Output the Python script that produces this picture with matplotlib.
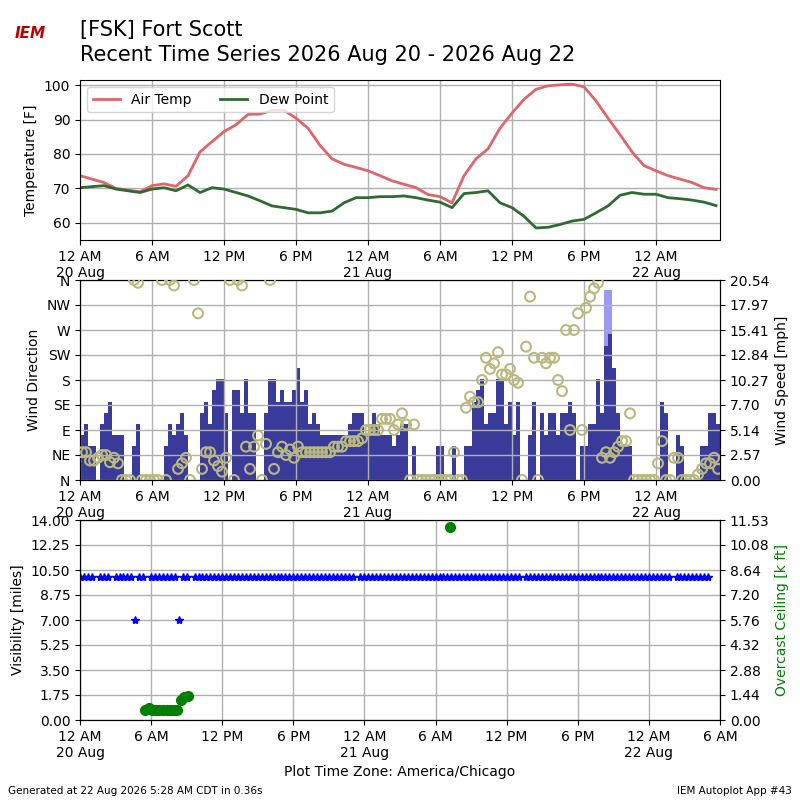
import numpy as np
import matplotlib
matplotlib.use("Agg")
import matplotlib.pyplot as plt

# hourly temps, hours since 12 AM 20 Aug
tmpf = [73.7, 72.7, 71.7, 70.0, 69.5, 69.0, 70.8, 71.3, 70.6, 73.7, 80.6, 83.6, 86.5, 88.5,
        91.5, 91.6, 92.7, 92.7, 90.4, 87.5, 82.5, 78.6, 77.0, 76.1, 75.1, 73.7, 72.2, 71.2,
        70.2, 68.2, 67.6, 65.8, 73.7, 78.6, 81.5, 87.5, 91.9, 95.9, 98.8, 99.8, 100.1, 100.3,
        99.5, 95.4, 90.4, 85.6, 80.6, 76.6, 75.1, 73.7, 72.7, 71.7, 70.2, 69.7]
dwpf = [70.2, 70.5, 70.8, 69.8, 69.3, 68.8, 69.8, 70.2, 69.3, 71.0, 68.8, 70.2, 69.8, 68.8,
        67.8, 66.4, 64.9, 64.4, 63.9, 62.9, 62.9, 63.4, 65.8, 67.3, 67.3, 67.6, 67.6, 67.8,
        67.3, 66.6, 66.0, 64.4, 68.5, 68.8, 69.3, 65.8, 64.4, 61.9, 58.5, 58.7, 59.5, 60.5,
        61.0, 62.9, 64.9, 68.0, 68.8, 68.3, 68.3, 67.3, 67.0, 66.6, 66.0, 65.0]
hrs = list(range(len(tmpf)))

# 20 minute wind obs, speed in knots, direction in degrees
sknt = [4, 5, 3, 3, 0, 5, 6, 7, 4, 4, 4, 0, 0, 3, 5, 0, 0, 0, 0, 0, 0, 3, 5, 4, 5, 6, 4, 0, 0, 0,
        6, 7, 5, 8, 9, 9, 6, 0, 8, 8, 6, 9, 6, 6, 0, 0, 6, 9, 9, 7, 8, 7, 7, 8, 10, 7, 8, 5, 6, 5,
        4, 4, 4, 4, 4, 4, 4, 5, 6, 6, 6, 4, 5, 6, 5, 4, 4, 4, 3, 4,
        5, 5, 0, 3, 0, 0, 0, 0, 0, 3, 3, 0, 0, 3, 0, 0, 3, 3, 7, 8, 9, 5, 6, 6, 9, 9, 5, 7, 4, 7,
        0, 0, 4, 7, 0, 6, 4, 6, 6, 4, 6, 6, 7, 6, 0, 3, 3, 5, 5, 9, 6, 12, 13, 10, 6, 3, 3, 3, 0, 0,
        0, 0, 0, 0, 0, 7, 6, 0, 0, 4, 3, 0, 0, 0, 0, 3, 3, 6, 6, 5]
drct = [50, 50, 35, 35, 40, 45, 45, 32, 40, 30, 0, 0, 0, 360, 355, 0, 0, 0, 0, 0, 360, 0, 360, 350,
        20, 30, 40, 0, 360, 300, 20, 50, 50, 35, 25, 15, 40, 360, 0, 360, 350, 60, 20, 60, 80, 0,
        65, 360, 20, 50, 60, 45, 55, 40, 60, 50, 50, 50, 50, 50, 50, 50, 50, 60, 60, 60, 70, 70,
        70, 70, 75, 90, 90, 90, 90, 110, 110, 110, 90, 100,
        120, 100, 0, 100, 0, 0, 0, 0, 0, 0, 0, 0, 0, 50, 0, 0, 130, 150, 140, 140, 180, 220, 200,
        210, 230, 190, 190, 200, 180, 175, 0, 240, 330, 220, 0, 220, 210, 220, 220, 180, 160, 270,
        90, 270, 300, 90, 310, 330, 345, 355, 40, 50, 40, 50, 60, 70, 70, 120, 0, 0, 0, 0, 0, 0,
        30, 70, 0, 0, 40, 40, 0, 0, 0, 0, 10, 20, 30, 30, 40, 20]
wtime = [i / 3.0 for i in range(len(sknt))]
gust_t = [43.67, 44.0]
gust_mph = [19.5, 19.5]

# visibility every 20 min (10 mi nearly always), ceiling obs
vis_t = [i / 3.0 for i in range(160) if i not in (4, 8, 17, 28, 70, 112, 150)]
vis = [7.0 if t in (14 / 3.0, 25 / 3.0) else 10.0 for t in vis_t]
ceil_t = [5.5, 5.8, 6.1, 6.4, 6.7, 7.0, 7.3, 7.6, 7.9, 8.2, 8.5, 8.8, 9.1, 31.2]
ceil_k = [0.6, 0.7, 0.55, 0.55, 0.55, 0.55, 0.55, 0.55, 0.55, 0.55, 1.15, 1.35, 1.4, 11.1]

ticks = list(range(0, 54, 6))
labels = ["12 AM\n20 Aug", "6 AM", "12 PM", "6 PM", "12 AM\n21 Aug", "6 AM", "12 PM", "6 PM",
          "12 AM\n22 Aug"]

fig = plt.figure(figsize=(8, 8), dpi=100)
fig.text(0.1, 0.962, "[FSK] Fort Scott", fontsize=15, va="center")
fig.text(0.1, 0.931, "Recent Time Series 2026 Aug 20 - 2026 Aug 22", fontsize=15, va="center")
fig.text(0.038, 0.952, "IEM", color="#c00000", fontsize=11, style="italic", weight="bold", ha="center")
fig.text(0.01, 0.008, "Generated at 22 Aug 2026 5:28 AM CDT in 0.36s", fontsize=7.5)
fig.text(0.99, 0.008, "IEM Autoplot App #43", fontsize=7.5, ha="right")

ax1 = fig.add_axes([0.1, 0.7, 0.8, 0.2])
ax1.plot(hrs, tmpf, color="#e0646a", lw=2, label="Air Temp")
ax1.plot(hrs, dwpf, color="#2f6a30", lw=2, label="Dew Point")
ax1.set_ylim(55, 101.5)
ax1.set_yticks([60, 70, 80, 90, 100])
ax1.set_ylabel("Temperature [F]")
ax1.legend(loc="upper left", ncol=2)

ax2 = fig.add_axes([0.1, 0.4, 0.8, 0.25])
ax2b = ax2.twinx()
mph = [s * 1.15078 for s in sknt]
ax2b.bar(gust_t, gust_mph, width=1 / 3.0, align="edge", color="#9a9af5", zorder=1)
ax2b.bar(wtime, mph, width=1 / 3.0, align="edge", color="#3a3a9a", zorder=2)
ax2b.set_ylim(0, 20.54)
ax2b.set_yticks(np.linspace(0, 20.54, 9))
ax2b.set_yticklabels(["0.00", "2.57", "5.14", "7.70", "10.27", "12.84", "15.41", "17.97", "20.54"])
ax2b.set_ylabel("Wind Speed [mph]")
ax2.set_zorder(ax2b.get_zorder() + 1)
ax2.patch.set_visible(False)
ax2.scatter([t + 1 / 6.0 for t in wtime], drct, s=50, facecolors="none", edgecolors="#b9b97e", lw=1.5, zorder=3)
ax2.set_ylim(0, 360)
ax2.set_yticks(range(0, 361, 45))
ax2.set_yticklabels(["N", "NE", "E", "SE", "S", "SW", "W", "NW", "N"])
ax2.set_ylabel("Wind Direction")

ax3 = fig.add_axes([0.1, 0.1, 0.8, 0.25])
ax3b = ax3.twinx()
ax3.plot(vis_t, vis, "*", color="blue", ms=6, ls="none")
ax3.set_ylim(0, 14)
ax3.set_yticks(np.arange(0, 14.01, 1.75))
ax3.set_yticklabels(["%.2f" % v for v in np.arange(0, 14.01, 1.75)])
ax3.set_ylabel("Visibility [miles]")
ax3b.plot(ceil_t, ceil_k, "o", color="green", ms=7)
ax3b.set_ylim(0, 11.53)
ax3b.set_yticks(np.linspace(0, 11.53, 9))
ax3b.set_yticklabels(["0.00", "1.44", "2.88", "4.32", "5.76", "7.20", "8.64", "10.08", "11.53"])
ax3b.set_ylabel("Overcast Ceiling [k ft]", color="green")
ax3.set_xlabel("Plot Time Zone: America/Chicago")

for ax in (ax1, ax2):
    ax.set_xlim(0, 53.33)
    ax.set_xticks(ticks)
    ax.set_xticklabels(labels)
    ax.grid(True, color="#b0b0b0", lw=1)
ax3.set_xlim(0, 54)
ax3.set_xticks(ticks + [54])
ax3.set_xticklabels(labels + ["6 AM"])
ax3.grid(True, color="#b0b0b0", lw=1)

plt.savefig("out.png")
